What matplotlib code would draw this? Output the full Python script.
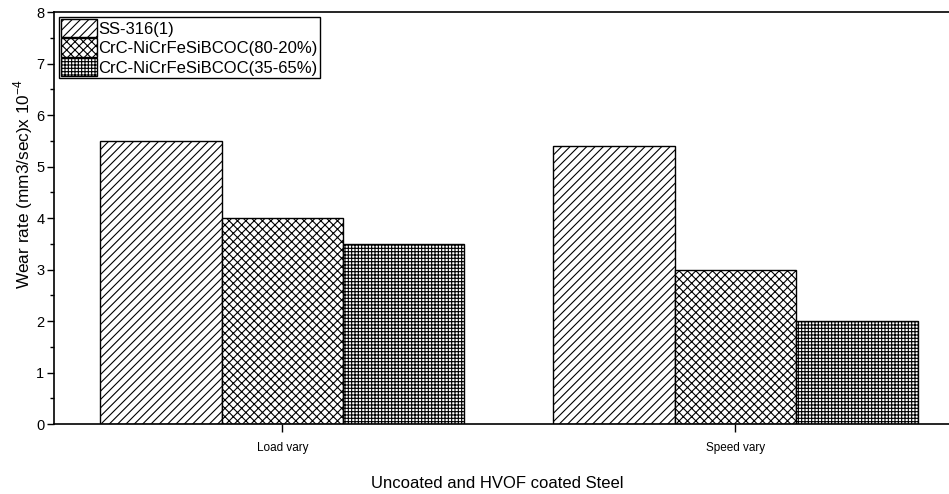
import matplotlib
matplotlib.use("Agg")
import matplotlib.pyplot as plt
import numpy as np
from matplotlib.ticker import MultipleLocator

plt.rcParams['font.family'] = ['Liberation Sans', 'DejaVu Sans']
plt.rcParams['hatch.linewidth'] = 0.8

categories = ["Load vary", "Speed vary"]
series_names = ["SS-316(1)", "CrC-NiCrFeSiBCOC(80-20%)", "CrC-NiCrFeSiBCOC(35-65%)"]
ss316 = [5.5, 5.4]
crc_80_20 = [4.0, 3.0]
crc_35_65 = [3.5, 2.0]
hatches = ["////", "xxxx", "+++++"]

fig = plt.figure(figsize=(9.49, 4.94), dpi=100)
ax = fig.add_axes([0.0569, 0.1417, 0.9453, 0.834])

x = np.arange(len(categories))
width = 0.268
values = [ss316, crc_80_20, crc_35_65]
handles = []
for i, (vals, name, h) in enumerate(zip(values, series_names, hatches)):
    b = ax.bar(x + (i - 1) * width, vals, width, facecolor="white",
               edgecolor="black", linewidth=1.0, hatch=h, label=name)
    handles.append(b)

ax.set_xlim(-0.504, 1.476)
ax.set_ylim(0, 8)
ax.set_xticks(x)
ax.set_xticklabels(categories, fontsize=8.5)
ax.yaxis.set_major_locator(MultipleLocator(1))
ax.yaxis.set_minor_locator(MultipleLocator(0.5))
ax.tick_params(axis='y', which='major', direction='out', length=5, width=1, labelsize=10.5, pad=2)
ax.tick_params(axis='y', which='minor', direction='out', length=3, width=1)
ax.tick_params(axis='x', which='major', direction='out', length=6, width=1, pad=7)
ax.spines['right'].set_visible(False)
for s in ['left', 'bottom', 'top']:
    ax.spines[s].set_linewidth(1.2)

ax.set_ylabel(r"Wear rate (mm3/sec)x 10$^{\mathregular{-4}}$", fontsize=12.4)
ax.yaxis.set_label_coords(-0.021, 0.583)
ax.set_xlabel("Uncoated and HVOF coated Steel", fontsize=12)
ax.xaxis.set_label_coords(0.494, -0.127)

leg = ax.legend(handles=handles, labels=series_names, loc="upper left",
                bbox_to_anchor=(0.006, 0.988), fontsize=12,
                handlelength=2.15, handleheight=1.35, handletextpad=0.1,
                labelspacing=0.05, borderpad=0.1, borderaxespad=0.0,
                fancybox=False, frameon=True, framealpha=1.0)
leg.get_frame().set_edgecolor("black")
leg.get_frame().set_linewidth(1.0)

fig.savefig("out.png", dpi=100)
